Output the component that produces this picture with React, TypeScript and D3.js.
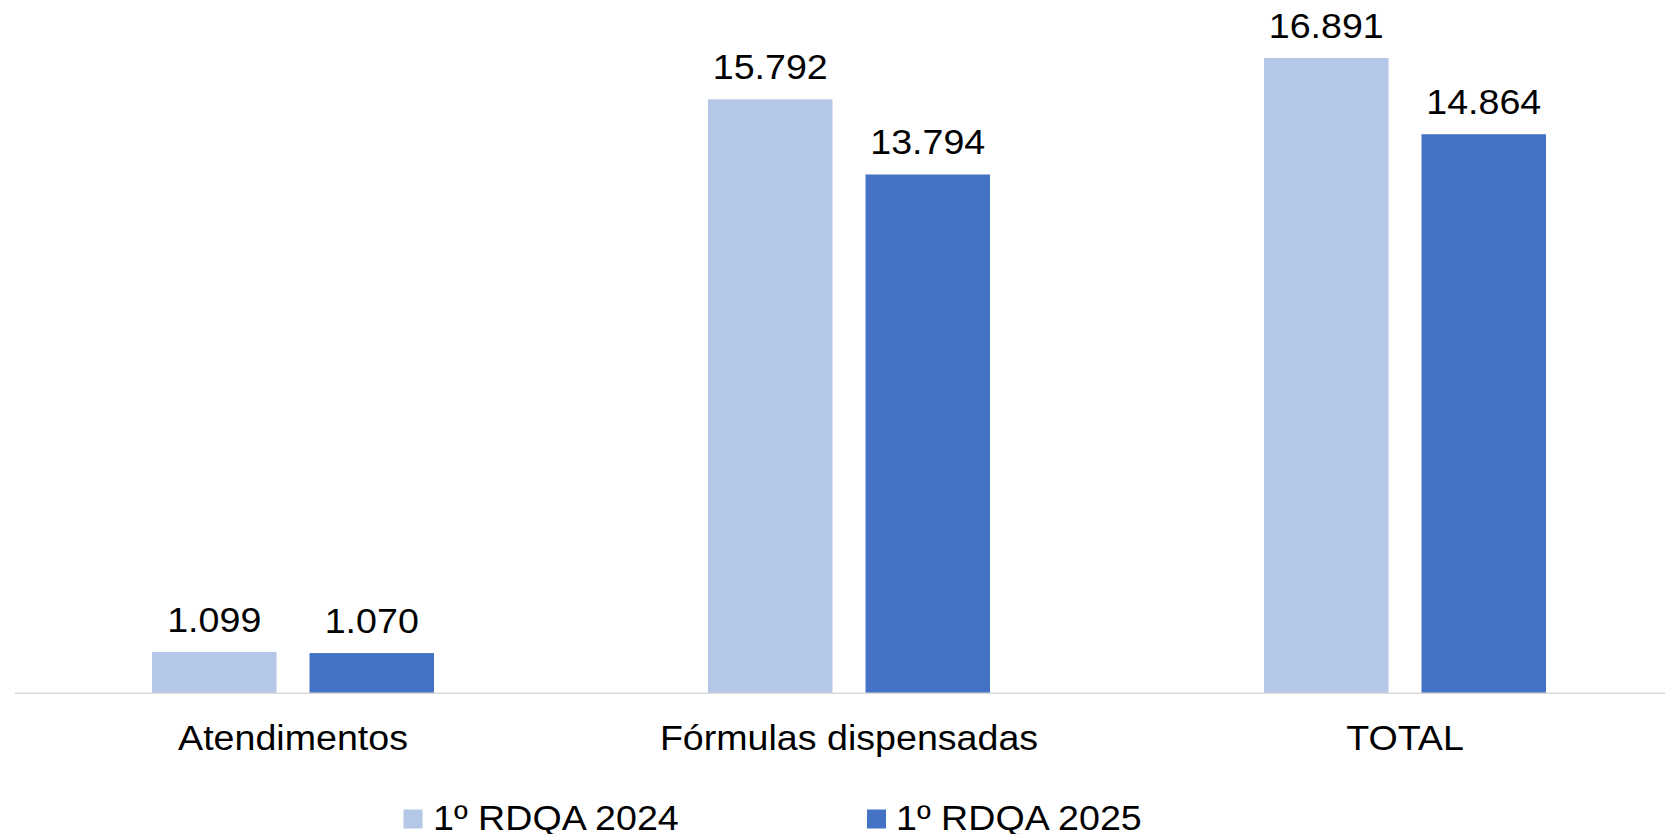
import React from "react";
import * as d3 from "d3";

const categories = ["Atendimentos", "Fórmulas dispensadas", "TOTAL"];
const seriesNames = ["1º RDQA 2024", "1º RDQA 2025"];
const values2024 = [1099, 15792, 16891];
const values2025 = [1070, 13794, 14864];
const seriesColors = ["#B4C7E7", "#4472C4"];

const W = 1665;
const H = 834;
const FONT = "'Liberation Sans', Arial, Helvetica, sans-serif";
const SX = 1.045;

function T({ x, y, anchor, children }: { x: number; y: number; anchor?: string; children: React.ReactNode }) {
  return (
    <text transform={`translate(${x},${y}) scale(${SX},1)`} textAnchor={anchor || "start"} fontSize={36} fill="#000">
      {children}
    </text>
  );
}

export default function App() {
  const baseY = 693.3;
  const x = d3.scaleBand<string>().domain(categories).range([15, 15 + 556 * 3]).padding(0);
  const xi = d3.scaleBand<string>().domain(seriesNames).range([137, 419]).paddingInner(0.2095).paddingOuter(0);
  const y = d3.scaleLinear().domain([0, 18000]).range([baseY, baseY - 18000 * 0.037612]);
  const fmt = (v: number) => d3.format(",")(v).replace(/,/g, ".");
  const seriesValues = [values2024, values2025];

  const legendItems = [
    { sq: 403.5, tx: 433 },
    { sq: 867, tx: 896 },
  ];

  return (
    <svg width={W} height={H} style={{ position: "absolute", left: 0, top: 0, background: "#fff" }} fontFamily={FONT}>
      <rect x={0} y={0} width={W} height={H} fill="#fff" />
      {categories.map((c, ci) => (
        <g key={c} transform={`translate(${x(c)},0)`}>
          {seriesNames.map((s, si) => {
            const v = seriesValues[si][ci];
            const bx = xi(s)!;
            const bw = xi.bandwidth();
            return (
              <g key={s}>
                <rect x={bx} y={y(v)} width={bw} height={baseY - y(v)} fill={seriesColors[si]} />
                <T x={bx + bw / 2} y={y(v) - 20} anchor="middle">
                  {fmt(v)}
                </T>
              </g>
            );
          })}
          <T x={x.bandwidth() / 2} y={749.5} anchor="middle">
            {c}
          </T>
        </g>
      ))}
      <line x1={15} x2={W} y1={baseY} y2={baseY} stroke="#D9D9D9" strokeWidth={1.5} />
      {seriesNames.map((s, si) => (
        <g key={s}>
          <rect x={legendItems[si].sq} y={809.5} width={19} height={19} fill={seriesColors[si]} />
          <T x={legendItems[si].tx} y={830}>
            {s}
          </T>
        </g>
      ))}
    </svg>
  );
}
